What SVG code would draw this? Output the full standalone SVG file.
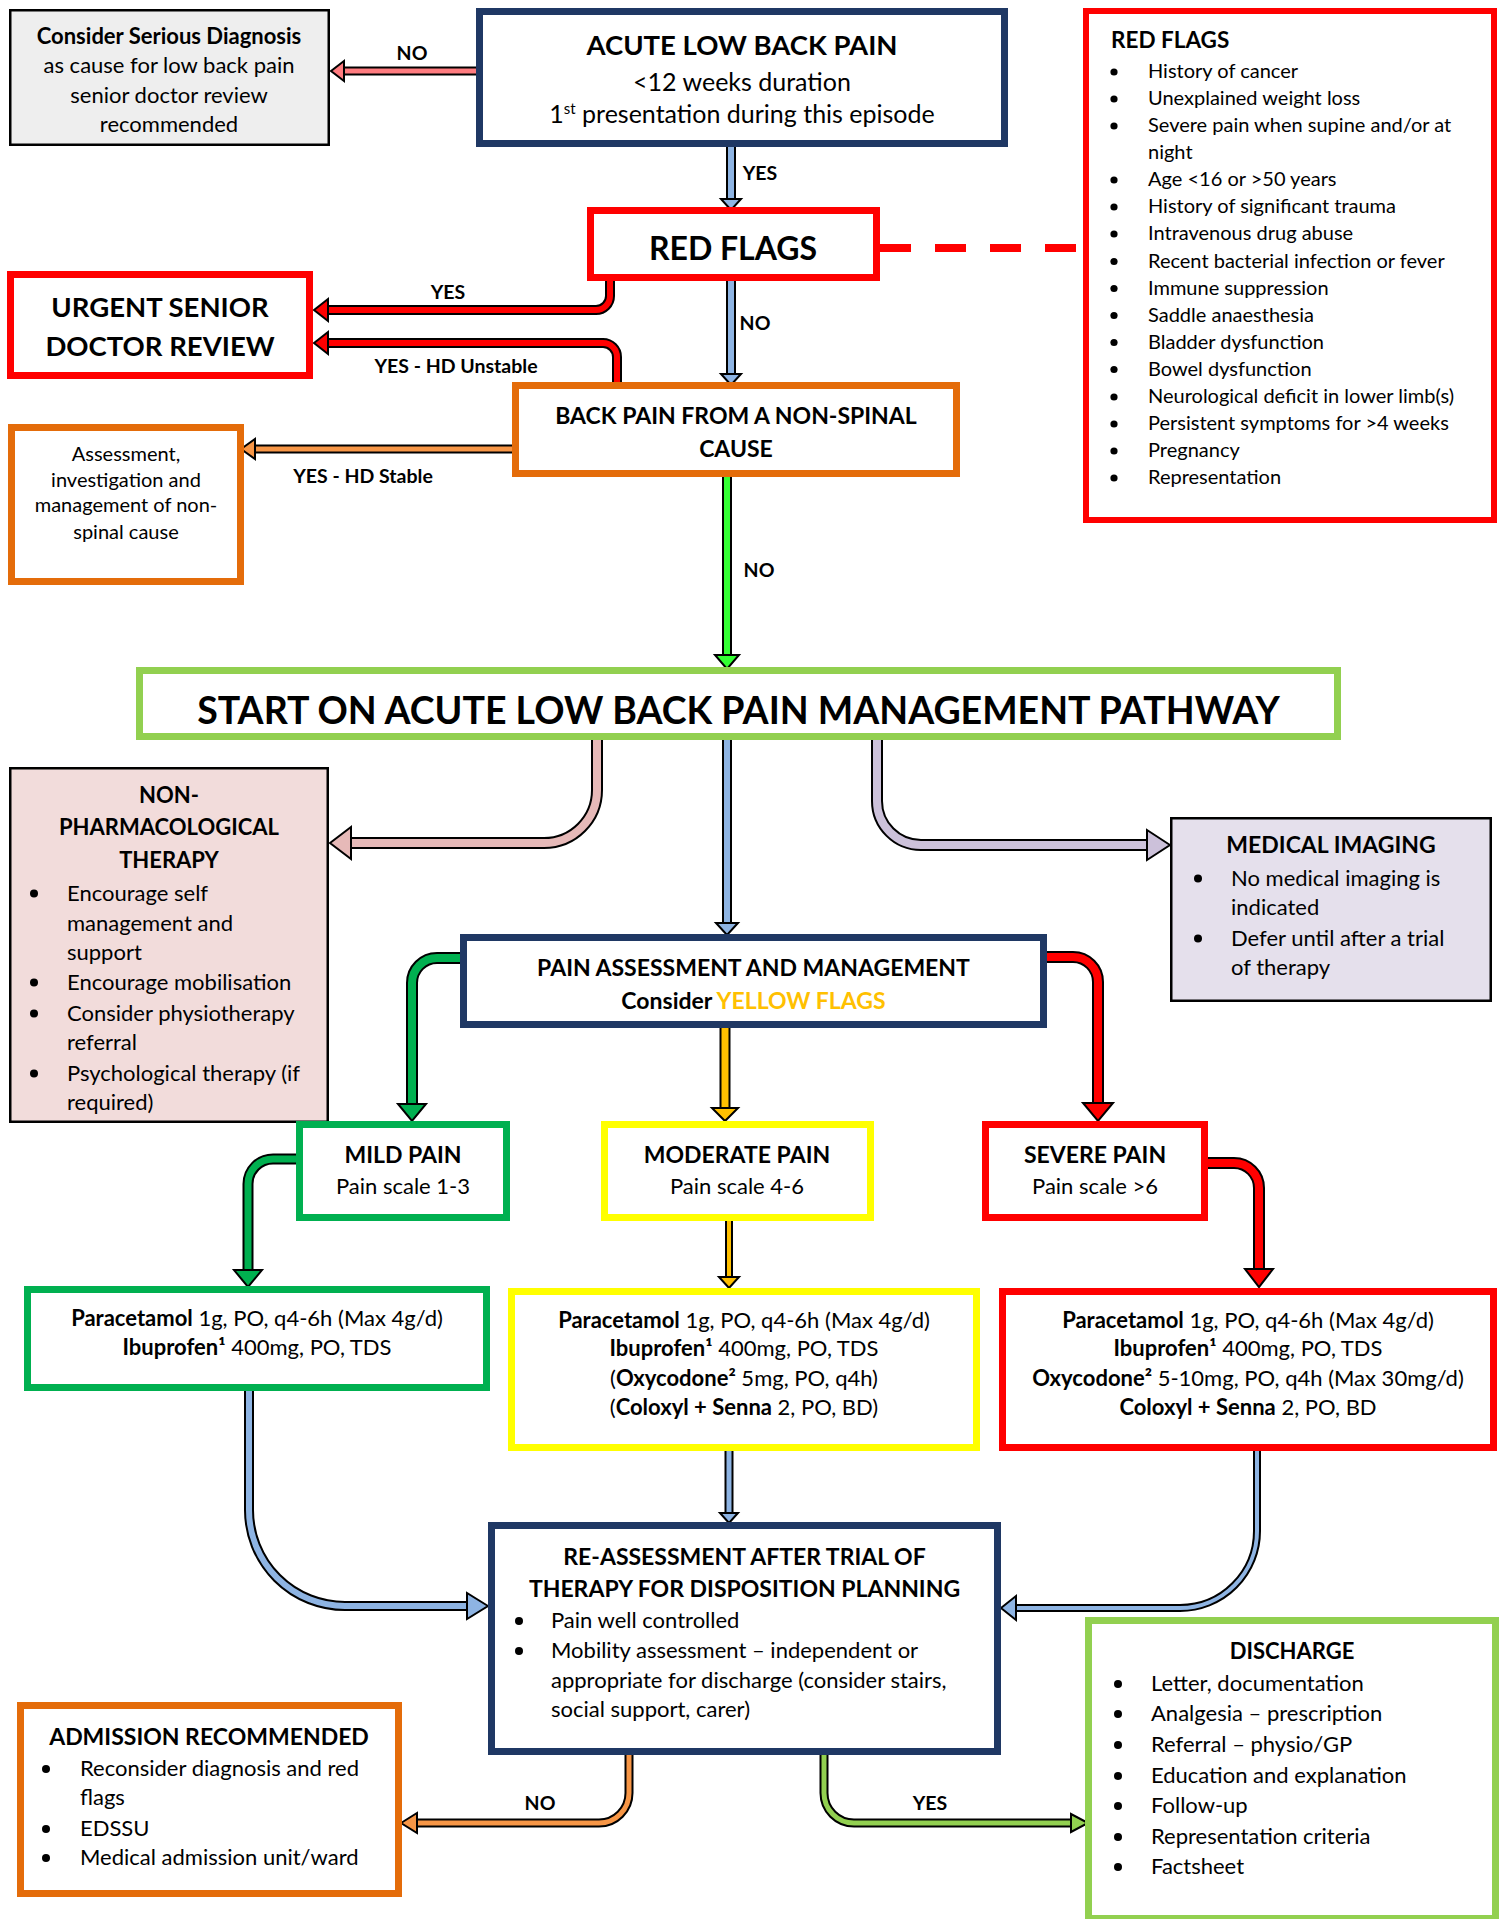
<svg xmlns="http://www.w3.org/2000/svg" width="1506" height="1919" viewBox="0 0 1506 1919">
<style>
svg{font-size:22px}
text{font-family:Lato,"Liberation Sans",sans-serif;fill:#000}
.b{font-weight:bold}
.c{text-anchor:middle}
.box{fill:#fff}
.nv{stroke:#1f3864;stroke-width:7}
.rd{stroke:#ff0000;stroke-width:7}
.or{stroke:#e46c0a;stroke-width:7}
.lg{stroke:#92d050;stroke-width:7}
.gn{stroke:#00b050;stroke-width:7}
.ye{stroke:#ffff00;stroke-width:7}
.bk{stroke:#000;stroke-width:2.5}
.k{fill:none;stroke:#000;stroke-linecap:butt;stroke-linejoin:round}
.s{fill:none;stroke-linecap:butt;stroke-linejoin:round}
.h{stroke:#000;stroke-width:2;stroke-linejoin:miter}
.lbl{font-weight:bold;font-size:19.5px;text-anchor:middle}
.dot{fill:#000}
.f20{font-size:20px}
</style>
<g id="connectors">
  <line x1="880" y1="248" x2="1083" y2="248" stroke="#ff0000" stroke-width="8" stroke-dasharray="31 24"/>
  <g id="c-acute-consider">
    <path class="k" stroke-width="9" d="M476 71H343"/><path class="s" stroke="#ff7c80" stroke-width="5" d="M476 71H343"/>
    <polygon class="h" fill="#ff7c80" points="331,71 344,61 344,81"/>
  </g>
  <g id="c-acute-redflags">
    <path class="k" stroke-width="10" d="M731 147V200"/><path class="s" stroke="#8eb4e3" stroke-width="6" d="M731 147V200"/>
    <polygon class="h" fill="#8eb4e3" points="721,199 741,199 731,210"/>
  </g>
  <g id="c-redflags-urgent">
    <path class="k" stroke-width="10" d="M610 278V296A14 14 0 0 1 596 310H327"/><path class="s" stroke="#ff0000" stroke-width="6" d="M610 278V296A14 14 0 0 1 596 310H327"/>
    <polygon class="h" fill="#ff0000" points="314,310 328,299 328,321"/>
  </g>
  <g id="c-backpain-urgent">
    <path class="k" stroke-width="10" d="M617 386V357A14 14 0 0 0 603 343H327"/><path class="s" stroke="#ff0000" stroke-width="6" d="M617 386V357A14 14 0 0 0 603 343H327"/>
    <polygon class="h" fill="#ff0000" points="314,343 328,332 328,354"/>
  </g>
  <g id="c-redflags-backpain">
    <path class="k" stroke-width="10" d="M731 281V374"/><path class="s" stroke="#8eb4e3" stroke-width="6" d="M731 281V374"/>
    <polygon class="h" fill="#8eb4e3" points="721,374 741,374 731,385"/>
  </g>
  <g id="c-backpain-assess">
    <path class="k" stroke-width="9" d="M512 449H254"/><path class="s" stroke="#f79646" stroke-width="5" d="M512 449H254"/>
    <polygon class="h" fill="#f79646" points="241,449 255,439 255,459"/>
  </g>
  <g id="c-backpain-start">
    <path class="k" stroke-width="10" d="M727 477V656"/><path class="s" stroke="#33ff33" stroke-width="6" d="M727 477V656"/>
    <polygon class="h" fill="#33ff33" points="715,655 739,655 727,669"/>
  </g>
  <g id="c-start-nonpharm">
    <path class="k" stroke-width="12" d="M597 740V790A53 53 0 0 1 544 843H350"/><path class="s" stroke="#e6b9b8" stroke-width="8" d="M597 740V790A53 53 0 0 1 544 843H350"/>
    <polygon class="h" fill="#e6b9b8" points="330,843 351,827 351,859"/>
  </g>
  <g id="c-start-pain">
    <path class="k" stroke-width="10" d="M727 740V924"/><path class="s" stroke="#8eb4e3" stroke-width="6" d="M727 740V924"/>
    <polygon class="h" fill="#8eb4e3" points="716,923 738,923 727,935"/>
  </g>
  <g id="c-start-imaging">
    <path class="k" stroke-width="12" d="M877 740V801A44 44 0 0 0 921 845H1148"/><path class="s" stroke="#ccc1da" stroke-width="8" d="M877 740V801A44 44 0 0 0 921 845H1148"/>
    <polygon class="h" fill="#ccc1da" points="1170,845 1147,830 1147,860"/>
  </g>
  <g id="c-pain-mild">
    <path class="k" stroke-width="12" d="M462 958H437A25 25 0 0 0 412 983V1105"/><path class="s" stroke="#00b050" stroke-width="8" d="M462 958H437A25 25 0 0 0 412 983V1105"/>
    <polygon class="h" fill="#00b050" points="398,1104 426,1104 412,1121"/>
  </g>
  <g id="c-pain-moderate">
    <path class="k" stroke-width="11" d="M725 1026V1109"/><path class="s" stroke="#ffc000" stroke-width="7" d="M725 1026V1109"/>
    <polygon class="h" fill="#ffc000" points="712,1108 738,1108 725,1121"/>
  </g>
  <g id="c-pain-severe">
    <path class="k" stroke-width="12" d="M1045 957H1073A25 25 0 0 1 1098 982V1104"/><path class="s" stroke="#ff0000" stroke-width="8" d="M1045 957H1073A25 25 0 0 1 1098 982V1104"/>
    <polygon class="h" fill="#ff0000" points="1083,1103 1113,1103 1098,1121"/>
  </g>
  <g id="c-mild-meds">
    <path class="k" stroke-width="11" d="M298 1159H273A25 25 0 0 0 248 1184V1271"/><path class="s" stroke="#00b050" stroke-width="7" d="M298 1159H273A25 25 0 0 0 248 1184V1271"/>
    <polygon class="h" fill="#00b050" points="234,1270 262,1270 248,1287"/>
  </g>
  <g id="c-moderate-meds">
    <path class="k" stroke-width="8" d="M729 1219V1278"/><path class="s" stroke="#ffc000" stroke-width="4" d="M729 1219V1278"/>
    <polygon class="h" fill="#ffc000" points="719,1277 739,1277 729,1288"/>
  </g>
  <g id="c-severe-meds">
    <path class="k" stroke-width="12" d="M1206 1163H1234A25 25 0 0 1 1259 1188V1270"/><path class="s" stroke="#ff0000" stroke-width="8" d="M1206 1163H1234A25 25 0 0 1 1259 1188V1270"/>
    <polygon class="h" fill="#ff0000" points="1245,1269 1273,1269 1259,1287"/>
  </g>
  <g id="c-mildmeds-reassess">
    <path class="k" stroke-width="10" d="M249 1389V1510A96 96 0 0 0 345 1606H468"/><path class="s" stroke="#8eb4e3" stroke-width="6" d="M249 1389V1510A96 96 0 0 0 345 1606H468"/>
    <polygon class="h" fill="#8eb4e3" points="488,1606 467,1593 467,1619"/>
  </g>
  <g id="c-modmeds-reassess">
    <path class="k" stroke-width="9" d="M729 1449V1514"/><path class="s" stroke="#8eb4e3" stroke-width="5" d="M729 1449V1514"/>
    <polygon class="h" fill="#8eb4e3" points="720,1513 738,1513 729,1523"/>
  </g>
  <g id="c-sevmeds-reassess">
    <path class="k" stroke-width="8" d="M1257 1449V1531A77 77 0 0 1 1180 1608H1016"/><path class="s" stroke="#8eb4e3" stroke-width="4" d="M1257 1449V1531A77 77 0 0 1 1180 1608H1016"/>
    <polygon class="h" fill="#8eb4e3" points="1001,1608 1016,1596 1016,1620"/>
  </g>
  <g id="c-reassess-admission">
    <path class="k" stroke-width="9" d="M629 1753V1793A30 30 0 0 1 599 1823H416"/><path class="s" stroke="#f79646" stroke-width="5" d="M629 1753V1793A30 30 0 0 1 599 1823H416"/>
    <polygon class="h" fill="#f79646" points="401,1823 417,1813 417,1833"/>
  </g>
  <g id="c-reassess-discharge">
    <path class="k" stroke-width="9" d="M824 1753V1793A30 30 0 0 0 854 1823H1071"/><path class="s" stroke="#92d050" stroke-width="5" d="M824 1753V1793A30 30 0 0 0 854 1823H1071"/>
    <polygon class="h" fill="#92d050" points="1088,1823 1071,1814 1071,1832"/>
  </g>
  <text class="lbl" x="412" y="60">NO</text>
  <text class="lbl" x="760" y="180">YES</text>
  <text class="lbl" x="448" y="299">YES</text>
  <text class="lbl" x="456" y="373">YES - HD Unstable</text>
  <text class="lbl" x="755" y="330">NO</text>
  <text class="lbl" x="363" y="483">YES - HD Stable</text>
  <text class="lbl" x="759" y="577">NO</text>
  <text class="lbl" x="540" y="1810">NO</text>
  <text class="lbl" x="930" y="1810">YES</text>
</g>
<g id="n-consider">
  <rect x="10.25" y="10.25" width="318.5" height="134.5" fill="#eeeeee" class="bk"/>
  <text class="c b" x="169" y="43.5">Consider Serious Diagnosis</text>
  <text class="c" x="169" y="73">as cause for low back pain</text>
  <text class="c" x="169" y="102.5">senior doctor review</text>
  <text class="c" x="169" y="132">recommended</text>
</g>
<g id="n-acute">
  <rect x="479.5" y="11.5" width="525" height="132" class="box nv"/>
  <text class="c b" x="742" y="55" style="font-size:27.5px">ACUTE LOW BACK PAIN</text>
  <text class="c" x="742" y="91" style="font-size:25px">&lt;12 weeks duration</text>
  <text class="c" x="742" y="123" style="font-size:25px">1<tspan style="font-size:15px" dy="-9">st</tspan><tspan dy="9"> presentation during this episode</tspan></text>
</g>
<g id="n-redflags">
  <rect x="590.5" y="210.5" width="286" height="67" class="box rd"/>
  <text class="c b" x="733" y="259.5" style="font-size:32px">RED FLAGS</text>
</g>
<g id="n-redflags-list">
  <rect x="1086" y="11" width="408" height="509" class="box" stroke="#ff0000" stroke-width="6"/>
  <text class="b" x="1111" y="48" style="font-size:22.5px">RED FLAGS</text>
  <g class="f20">
    <text x="1148" y="78">History of cancer</text>
    <text x="1148" y="105">Unexplained weight loss</text>
    <text x="1148" y="132">Severe pain when supine and/or at</text>
    <text x="1148" y="159">night</text>
    <text x="1148" y="186">Age &lt;16 or &gt;50 years</text>
    <text x="1148" y="213">History of significant trauma</text>
    <text x="1148" y="240">Intravenous drug abuse</text>
    <text x="1148" y="267.5">Recent bacterial infection or fever</text>
    <text x="1148" y="294.5">Immune suppression</text>
    <text x="1148" y="321.5">Saddle anaesthesia</text>
    <text x="1148" y="348.5">Bladder dysfunction</text>
    <text x="1148" y="375.5">Bowel dysfunction</text>
    <text x="1148" y="403">Neurological deficit in lower limb(s)</text>
    <text x="1148" y="430">Persistent symptoms for &gt;4 weeks</text>
    <text x="1148" y="457">Pregnancy</text>
    <text x="1148" y="484">Representation</text>
  </g>
  <g class="dot">
    <circle cx="1114" cy="72" r="3.6"/><circle cx="1114" cy="99" r="3.6"/><circle cx="1114" cy="126" r="3.6"/>
    <circle cx="1114" cy="180" r="3.6"/><circle cx="1114" cy="207" r="3.6"/><circle cx="1114" cy="234" r="3.6"/>
    <circle cx="1114" cy="261.5" r="3.6"/><circle cx="1114" cy="288.5" r="3.6"/><circle cx="1114" cy="315.5" r="3.6"/>
    <circle cx="1114" cy="342.5" r="3.6"/><circle cx="1114" cy="369.5" r="3.6"/><circle cx="1114" cy="397" r="3.6"/>
    <circle cx="1114" cy="424" r="3.6"/><circle cx="1114" cy="451" r="3.6"/><circle cx="1114" cy="478" r="3.6"/>
  </g>
</g>
<g id="n-urgent">
  <rect x="10.5" y="274.5" width="299" height="101" class="box rd"/>
  <text class="c b" x="160" y="317" style="font-size:27.5px">URGENT SENIOR</text>
  <text class="c b" x="160" y="356" style="font-size:27.5px">DOCTOR REVIEW</text>
</g>
<g id="n-backpain">
  <rect x="515.5" y="385.5" width="441" height="88" class="box or"/>
  <text class="c b" x="736" y="424" style="font-size:23px">BACK PAIN FROM A NON-SPINAL</text>
  <text class="c b" x="736" y="457" style="font-size:23px">CAUSE</text>
</g>
<g id="n-assessment">
  <rect x="11.5" y="427.5" width="229" height="154" class="box or"/>
  <g class="f20">
    <text class="c" x="126" y="461">Assessment,</text>
    <text class="c" x="126" y="487">investigation and</text>
    <text class="c" x="126" y="512">management of non-</text>
    <text class="c" x="126" y="539">spinal cause</text>
  </g>
</g>
<g id="n-start">
  <rect x="139.5" y="670.5" width="1198" height="66" class="box lg"/>
  <text class="c b" x="738.5" y="723.5" style="font-size:37.5px">START ON ACUTE LOW BACK PAIN MANAGEMENT PATHWAY</text>
</g>
<g id="n-nonpharm">
  <rect x="10.25" y="768.25" width="317.5" height="353.5" fill="#f2dcdb" class="bk"/>
  <text class="c b" x="169" y="803">NON-</text>
  <text class="c b" x="169" y="835">PHARMACOLOGICAL</text>
  <text class="c b" x="169" y="868">THERAPY</text>
  <text x="67" y="900.5">Encourage self</text>
  <text x="67" y="930.5">management and</text>
  <text x="67" y="959.5">support</text>
  <text x="67" y="989.5">Encourage mobilisation</text>
  <text x="67" y="1020.5">Consider physiotherapy</text>
  <text x="67" y="1049.5">referral</text>
  <text x="67" y="1080.5">Psychological therapy (if</text>
  <text x="67" y="1109.5">required)</text>
  <g class="dot">
    <circle cx="34" cy="893.5" r="4"/><circle cx="34" cy="982.5" r="4"/><circle cx="34" cy="1013.5" r="4"/><circle cx="34" cy="1073.5" r="4"/>
  </g>
</g>
<g id="n-pain">
  <rect x="463.5" y="937.5" width="580" height="87" class="box nv"/>
  <text class="c b" x="753.5" y="976" style="font-size:23px">PAIN ASSESSMENT AND MANAGEMENT</text>
  <text class="c b" x="753.5" y="1009" style="font-size:23px">Consider <tspan fill="#ffc000">YELLOW FLAGS</tspan></text>
</g>
<g id="n-imaging">
  <rect x="1171.25" y="818.25" width="319.5" height="182.5" fill="#e5e0ec" class="bk"/>
  <text class="c b" x="1331" y="853" style="font-size:23px">MEDICAL IMAGING</text>
  <text x="1231" y="885.5">No medical imaging is</text>
  <text x="1231" y="914.5">indicated</text>
  <text x="1231" y="945.5">Defer until after a trial</text>
  <text x="1231" y="974.5">of therapy</text>
  <g class="dot"><circle cx="1198" cy="878.5" r="4"/><circle cx="1198" cy="938.5" r="4"/></g>
</g>
<g id="n-mild">
  <rect x="299.5" y="1124.5" width="207" height="93" class="box gn"/>
  <text class="c b" x="403" y="1163" style="font-size:23px">MILD PAIN</text>
  <text class="c" x="403" y="1194">Pain scale 1-3</text>
</g>
<g id="n-moderate">
  <rect x="604.5" y="1124.5" width="266" height="93" class="box ye"/>
  <text class="c b" x="737" y="1163" style="font-size:23px">MODERATE PAIN</text>
  <text class="c" x="737" y="1194">Pain scale 4-6</text>
</g>
<g id="n-severe">
  <rect x="985.5" y="1124.5" width="219" height="93" class="box rd"/>
  <text class="c b" x="1095" y="1163" style="font-size:23px">SEVERE PAIN</text>
  <text class="c" x="1095" y="1194">Pain scale &gt;6</text>
</g>
<g id="n-mild-meds">
  <rect x="27.5" y="1289.5" width="459" height="98" class="box gn"/>
  <text class="c" x="257" y="1326"><tspan class="b">Paracetamol</tspan> 1g, PO, q4-6h (Max 4g/d)</text>
  <text class="c" x="257" y="1355"><tspan class="b">Ibuprofen¹</tspan> 400mg, PO, TDS</text>
</g>
<g id="n-moderate-meds">
  <rect x="511.5" y="1291.5" width="465" height="156" class="box ye"/>
  <text class="c" x="744" y="1328"><tspan class="b">Paracetamol</tspan> 1g, PO, q4-6h (Max 4g/d)</text>
  <text class="c" x="744" y="1356"><tspan class="b">Ibuprofen¹</tspan> 400mg, PO, TDS</text>
  <text class="c" x="744" y="1386">(<tspan class="b">Oxycodone²</tspan> 5mg, PO, q4h)</text>
  <text class="c" x="744" y="1415">(<tspan class="b">Coloxyl + Senna</tspan> 2, PO, BD)</text>
</g>
<g id="n-severe-meds">
  <rect x="1002.5" y="1291.5" width="491" height="156" class="box rd"/>
  <text class="c" x="1248" y="1328"><tspan class="b">Paracetamol</tspan> 1g, PO, q4-6h (Max 4g/d)</text>
  <text class="c" x="1248" y="1356"><tspan class="b">Ibuprofen¹</tspan> 400mg, PO, TDS</text>
  <text class="c" x="1248" y="1386"><tspan class="b">Oxycodone²</tspan> 5-10mg, PO, q4h (Max 30mg/d)</text>
  <text class="c" x="1248" y="1415"><tspan class="b">Coloxyl + Senna</tspan> 2, PO, BD</text>
</g>
<g id="n-reassess">
  <rect x="491.5" y="1525.5" width="506" height="226" class="box nv"/>
  <text class="c b" x="744.5" y="1565" style="font-size:23px">RE-ASSESSMENT AFTER TRIAL OF</text>
  <text class="c b" x="744.5" y="1597" style="font-size:23px">THERAPY FOR DISPOSITION PLANNING</text>
  <text x="551" y="1628">Pain well controlled</text>
  <text x="551" y="1658">Mobility assessment – independent or</text>
  <text x="551" y="1688">appropriate for discharge (consider stairs,</text>
  <text x="551" y="1717">social support, carer)</text>
  <g class="dot"><circle cx="519" cy="1621" r="4"/><circle cx="519" cy="1651" r="4"/></g>
</g>
<g id="n-admission">
  <rect x="20.5" y="1705.5" width="378" height="188" class="box or"/>
  <text class="c b" x="209" y="1745" style="font-size:23px">ADMISSION RECOMMENDED</text>
  <text x="80" y="1776">Reconsider diagnosis and red</text>
  <text x="80" y="1805">flags</text>
  <text x="80" y="1836">EDSSU</text>
  <text x="80" y="1865">Medical admission unit/ward</text>
  <g class="dot"><circle cx="46" cy="1769" r="4"/><circle cx="46" cy="1829" r="4"/><circle cx="46" cy="1858" r="4"/></g>
</g>
<g id="n-discharge">
  <rect x="1088.5" y="1620.5" width="407" height="298" class="box lg"/>
  <text class="c b" x="1292" y="1659">DISCHARGE</text>
  <text x="1151" y="1691">Letter, documentation</text>
  <text x="1151" y="1721">Analgesia – prescription</text>
  <text x="1151" y="1752">Referral – physio/GP</text>
  <text x="1151" y="1783">Education and explanation</text>
  <text x="1151" y="1813">Follow-up</text>
  <text x="1151" y="1844">Representation criteria</text>
  <text x="1151" y="1874">Factsheet</text>
  <g class="dot">
    <circle cx="1118" cy="1684" r="4"/><circle cx="1118" cy="1714" r="4"/><circle cx="1118" cy="1745" r="4"/><circle cx="1118" cy="1776" r="4"/>
    <circle cx="1118" cy="1806" r="4"/><circle cx="1118" cy="1837" r="4"/><circle cx="1118" cy="1867" r="4"/>
  </g>
</g>
</svg>
